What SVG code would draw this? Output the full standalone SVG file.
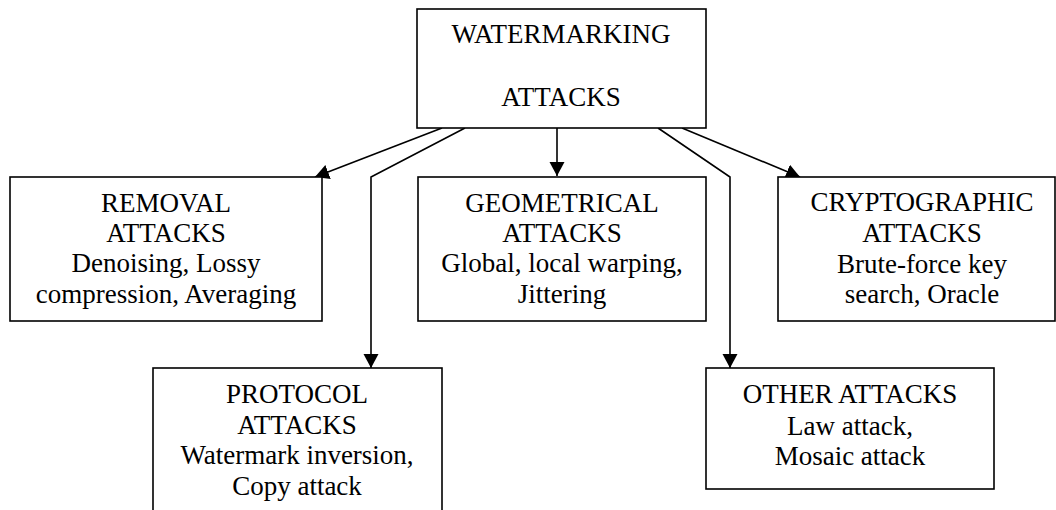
<svg xmlns="http://www.w3.org/2000/svg" width="1056" height="510" viewBox="0 0 1056 510">
<defs>
<style>
.box{fill:#fff;stroke:#000;stroke-width:1.6}
.t{font-family:"Liberation Serif","Times New Roman",serif;font-size:27px;fill:#000;text-anchor:middle}
.c{fill:none;stroke:#000;stroke-width:1.6}
</style>
<marker id="ah" markerUnits="userSpaceOnUse" markerWidth="16" markerHeight="16" refX="14" refY="7.5" orient="auto">
<path d="M0,0 L14,7.5 L0,15 Z" fill="#000"/>
</marker>
</defs>
<rect width="1056" height="510" fill="#fff"/>
<g id="connectors">
<line class="c" x1="442" y1="128" x2="315" y2="177" marker-end="url(#ah)"/>
<polyline class="c" points="465,128 371,177 371,368" marker-end="url(#ah)"/>
<line class="c" x1="557" y1="128" x2="557" y2="176" marker-end="url(#ah)"/>
<polyline class="c" points="658,128 730,177 730,368" marker-end="url(#ah)"/>
<line class="c" x1="682" y1="128" x2="800" y2="177" marker-end="url(#ah)"/>
</g>
<g id="root">
<rect class="box" x="417" y="9" width="289" height="119"/>
<text class="t" x="561" y="43">WATERMARKING</text>
<text class="t" x="561" y="106">ATTACKS</text>
</g>
<g id="removal">
<rect class="box" x="10" y="177" width="312" height="144"/>
<text class="t" x="166" y="212">REMOVAL</text>
<text class="t" x="166" y="242">ATTACKS</text>
<text class="t" x="166" y="272">Denoising, Lossy</text>
<text class="t" x="166" y="303">compression, Averaging</text>
</g>
<g id="geometrical">
<rect class="box" x="418" y="177" width="288" height="144"/>
<text class="t" x="562" y="212">GEOMETRICAL</text>
<text class="t" x="562" y="242">ATTACKS</text>
<text class="t" x="562" y="272">Global, local warping,</text>
<text class="t" x="562" y="303">Jittering</text>
</g>
<g id="cryptographic">
<rect class="box" x="778" y="177" width="277" height="144"/>
<text class="t" x="922" y="211">CRYPTOGRAPHIC</text>
<text class="t" x="922" y="242">ATTACKS</text>
<text class="t" x="922" y="273">Brute-force key</text>
<text class="t" x="922" y="303">search, Oracle</text>
</g>
<g id="protocol">
<rect class="box" x="153" y="368" width="289" height="150"/>
<text class="t" x="297" y="403">PROTOCOL</text>
<text class="t" x="297" y="434">ATTACKS</text>
<text class="t" x="297" y="464">Watermark inversion,</text>
<text class="t" x="297" y="495">Copy attack</text>
</g>
<g id="other">
<rect class="box" x="706" y="368" width="288" height="121"/>
<text class="t" x="850" y="403">OTHER ATTACKS</text>
<text class="t" x="850" y="435">Law attack,</text>
<text class="t" x="850" y="465">Mosaic attack</text>
</g>
</svg>
